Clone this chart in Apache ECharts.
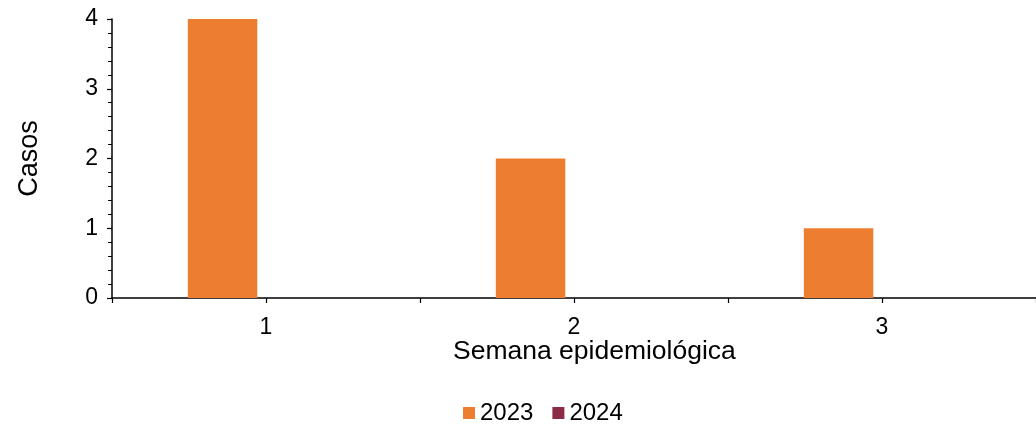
<!DOCTYPE html>
<html><head><meta charset="utf-8">
<script src="https://cdn.jsdelivr.net/npm/echarts@6/dist/echarts.min.js"></script>
<style>html,body{margin:0;padding:0;background:#fff}#c{width:1036px;height:425px}</style>
</head><body><div id="c"></div>
<script>
const categories = ['1', '2', '3'];
const halfTicks = ['', '', '', '', '', ''];
const seriesNames = ['2023', '2024'];
const values2023 = [4, 2, 1];
const values2024 = [0, 0, 0];
const yTicks = [0, 1, 2, 3, 4];

const font = 'Liberation Sans, Arial, sans-serif';
const chart = echarts.init(document.getElementById('c'));
chart.setOption({
  animation: false,
  grid: { left: 112, right: -5, top: 19, bottom: 127, containLabel: false },
  legend: {
    data: seriesNames, bottom: -5, left: 458, itemWidth: 12, itemHeight: 12, itemGap: 19,
    icon: 'rect', textStyle: { fontFamily: font, fontSize: 24, color: '#000' }
  },
  xAxis: [{
    type: 'category', data: categories, boundaryGap: true,
    axisLine: { lineStyle: { color: '#000', width: 1.5 } },
    axisTick: { show: false },
    axisLabel: { fontFamily: font, fontSize: 23, color: '#000', margin: 18 }
  }, {
    type: 'category', data: halfTicks, boundaryGap: true, position: 'bottom',
    axisLine: { show: false },
    axisTick: { show: true, length: 5, lineStyle: { color: '#000', width: 1.2 } },
    axisLabel: { show: false }
  }],
  yAxis: {
    type: 'value', min: 0, max: 4, interval: 1,
    axisLine: { show: true, lineStyle: { color: '#000', width: 1.5 } },
    axisTick: { show: true, length: 5, lineStyle: { color: '#000', width: 1.2 } },
    minorTick: { show: true, splitNumber: 5, length: 4, lineStyle: { color: '#000', width: 1 } },
    splitLine: { show: false },
    axisLabel: { fontFamily: font, fontSize: 23, color: '#000', margin: 14,
      formatter: v => yTicks.includes(v) ? String(v) : '' },
    name: 'Casos', nameLocation: 'middle', nameGap: 69, nameRotate: 90,
    nameTextStyle: { fontFamily: font, fontSize: 27, color: '#000' }
  },
  graphic: [{
    type: 'text', left: 453, top: 338,
    style: { text: 'Semana epidemiológica', font: '26.5px ' + font, fill: '#000' }
  }],
  series: [{
    name: seriesNames[0], type: 'bar', data: values2023, barWidth: 69.5, barGap: '25%',
    itemStyle: { color: '#ED7D31' }
  }, {
    name: seriesNames[1], type: 'bar', data: values2024, barWidth: 69.5, barGap: '25%',
    itemStyle: { color: '#8C2B46' }
  }]
});
</script></body></html>
